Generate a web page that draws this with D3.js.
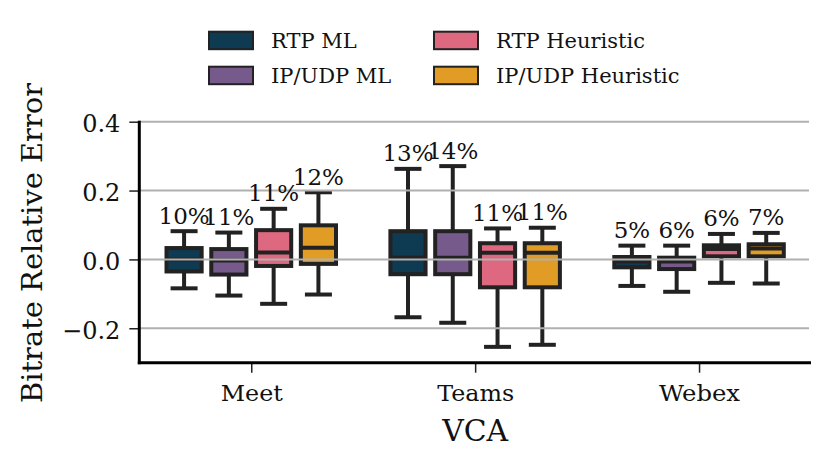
<!DOCTYPE html>
<html><head><meta charset="utf-8">
<script src="https://cdn.jsdelivr.net/npm/d3@7"></script>
<style>body{margin:0;background:#fff}svg{display:block}text{font-family:"DejaVu Serif",serif;fill:#111}</style>
</head><body><svg id="c" width="831" height="468"></svg>
<script>
const categories = ["Meet", "Teams", "Webex"];
const series = ["RTP ML", "IP/UDP ML", "RTP Heuristic", "IP/UDP Heuristic"];
const colors = ["#0e3a52", "#775a8c", "#dd6880", "#e09c24"];
// [whislo, q1, median, q3, whishi] per category, per series
const rtpML      = [[-0.084,-0.035, 0.000,0.033,0.082],[-0.168,-0.043,0.005,0.082,0.263],[-0.077,-0.023,-0.006,0.007,0.040]];
const ipudpML    = [[-0.105,-0.044,-0.003,0.030,0.078],[-0.184,-0.043,0.005,0.082,0.271],[-0.094,-0.028,-0.006,0.005,0.040]];
const rtpHeur    = [[-0.129,-0.019, 0.020,0.085,0.147],[-0.254,-0.081,0.019,0.047,0.090],[-0.068, 0.009, 0.030,0.041,0.074]];
const ipudpHeur  = [[-0.102,-0.013, 0.034,0.099,0.195],[-0.248,-0.081,0.019,0.047,0.092],[-0.070, 0.009, 0.032,0.044,0.077]];
const pctLabels  = [["10%","11%","11%","12%"],["13%","14%","11%","11%"],["5%","6%","6%","7%"]];
const yTicks = [-0.2, 0.0, 0.2, 0.4];
const allSeries = [rtpML, ipudpML, rtpHeur, ipudpHeur];

const svg = d3.select("#c");
const x = d3.scaleLinear().domain([-0.5, 2.5]).range([139.3, 811]);
const y = d3.scaleLinear().domain([-0.3, 0.4]).range([362.7, 121.7]);
const boxW = x(0.157) - x(0);
const capW = 27;
const dark = "#222";
const sw = 4;

const g = svg.append("g");
// boxes
allSeries.forEach((s, j) => {
  s.forEach((st, i) => {
    const cx = x(i + (j - 1.5) * 0.2);
    const [lo, q1, md, q3, hi] = st;
    const bg = g.append("g");
    bg.append("line").attr("x1", cx).attr("x2", cx).attr("y1", y(hi)).attr("y2", y(q3)).attr("stroke", dark).attr("stroke-width", sw);
    bg.append("line").attr("x1", cx).attr("x2", cx).attr("y1", y(q1)).attr("y2", y(lo)).attr("stroke", dark).attr("stroke-width", sw);
    bg.append("line").attr("x1", cx - capW/2).attr("x2", cx + capW/2).attr("y1", y(hi)).attr("y2", y(hi)).attr("stroke", dark).attr("stroke-width", sw);
    bg.append("line").attr("x1", cx - capW/2).attr("x2", cx + capW/2).attr("y1", y(lo)).attr("y2", y(lo)).attr("stroke", dark).attr("stroke-width", sw);
    bg.append("rect").attr("x", cx - boxW/2).attr("y", y(q3)).attr("width", boxW).attr("height", y(q1) - y(q3))
      .attr("fill", colors[j]).attr("stroke", dark).attr("stroke-width", sw);
    bg.append("line").attr("x1", cx - boxW/2).attr("x2", cx + boxW/2).attr("y1", y(md)).attr("y2", y(md)).attr("stroke", dark).attr("stroke-width", sw);
  });
});
// grid on top
g.selectAll(".grid").data(yTicks).join("line")
  .attr("x1", x(-0.5)).attr("x2", 809).attr("y1", d => y(d)).attr("y2", d => y(d))
  .attr("stroke", "#b0b0b0").attr("stroke-width", 2);
// labels
allSeries.forEach((s, j) => {
  s.forEach((st, i) => {
    const cx = x(i + (j - 1.5) * 0.2);
    g.append("text").attr("x", cx).attr("y", y(st[4]) - 7.5).attr("text-anchor", "middle")
      .style("font-size", "23px").text(pctLabels[i][j]);
  });
});
// axes
const yAxis = d3.axisLeft(y).tickValues(yTicks).tickFormat(d => d3.format(".1f")(d).replace("-", "\u2212")).tickSize(10).tickPadding(9);
const ya = svg.append("g").attr("transform", `translate(${x(-0.5)},0)`).call(yAxis);
ya.select(".domain").remove();
ya.selectAll(".tick line").attr("stroke", dark).attr("stroke-width", 1.5);
ya.selectAll(".tick text").style("font-size", "24px").attr("fill", "#111").attr("dy", "0.42em");
svg.append("line").attr("x1", x(-0.5)).attr("x2", x(-0.5)).attr("y1", y(0.4) - 1).attr("y2", y(-0.3) + 1.5).attr("stroke", "#000").attr("stroke-width", 3);

const xLabelLen = [62, 77, 81];
const xAxis = d3.axisBottom(x).tickValues([0,1,2]).tickFormat(i => categories[i]).tickSize(10);
const xa = svg.append("g").attr("transform", `translate(0,${y(-0.3)})`).call(xAxis);
xa.select(".domain").remove();
xa.selectAll(".tick line").attr("stroke", dark).attr("stroke-width", 1.5);
xa.selectAll(".tick text").style("font-size", "21.5px").attr("fill", "#111")
  .attr("y", 38).attr("dy", 0)
  .attr("textLength", (d) => xLabelLen[d]).attr("lengthAdjust", "spacingAndGlyphs");
svg.append("line").attr("x1", x(-0.5) - 1.5).attr("x2", x(2.5)).attr("y1", y(-0.3)).attr("y2", y(-0.3)).attr("stroke", "#000").attr("stroke-width", 3);

svg.append("text").attr("x", x(1)).attr("y", 441).attr("text-anchor", "middle").style("font-size", "30px")
  .attr("textLength", 66).attr("lengthAdjust", "spacingAndGlyphs").text("VCA");
svg.append("text").attr("transform", `translate(42,243) rotate(-90)`).attr("text-anchor", "middle").style("font-size", "27.5px")
  .attr("textLength", 320).attr("lengthAdjust", "spacingAndGlyphs").text("Bitrate Relative Error");

// legend
const legPos = [[209, 31.7], [209, 66.7], [434, 31.7], [434, 66.7]];
series.forEach((s, j) => {
  const [lx, ly] = legPos[j];
  svg.append("rect").attr("x", lx).attr("y", ly).attr("width", 44).attr("height", 17.5).attr("fill", colors[j]).attr("stroke", dark).attr("stroke-width", 2);
  svg.append("text").attr("x", lx + 62).attr("y", ly + 16).style("font-size", "21px").text(s);
});
</script></body></html>
